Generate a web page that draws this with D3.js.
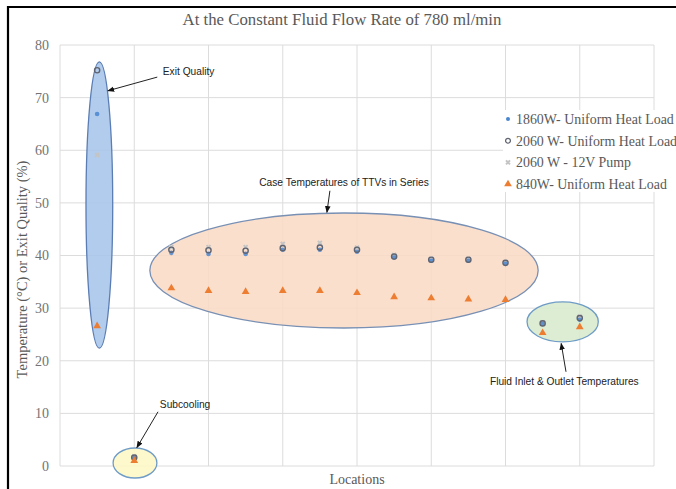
<!DOCTYPE html>
<html>
<head>
<meta charset="utf-8">
<script src="https://cdn.jsdelivr.net/npm/d3@7.9.0/dist/d3.min.js"></script>
<style>
  body { margin: 0; background: #fff; }
  svg { display: block; }
</style>
</head>
<body>
<svg id="chart" width="676" height="489"></svg>
<script>
// ---- data ----
const locations = [1, 2, 3, 4, 5, 6, 7, 8, 9, 10, 11, 12, 13, 14];
const s1860 = [66.9, 1.5, 40.5, 40.3, 40.3, 41.1, 41.1, 40.7, 39.6, 39.0, 39.0, 38.4, 27.0, 27.8];
const s2060 = [75.2, 1.6, 41.1, 41.0, 40.9, 41.4, 41.5, 41.1, 39.8, 39.2, 39.2, 38.6, 27.1, 28.1];
const s2060pump = [59.1, 1.8, 41.6, 41.6, 41.6, 42.2, 42.4, 41.5, 40.1, 39.4, 39.4, 38.8, 27.3, 28.4];
const s840 = [26.6, 1.0, 33.8, 33.3, 33.1, 33.3, 33.3, 32.9, 32.1, 31.9, 31.7, 31.6, 25.3, 26.4];
const seriesNames = ['1860W- Uniform Heat Load', '2060 W- Uniform Heat Load', '2060 W - 12V Pump', '840W- Uniform Heat Load'];
const yTicks = [0, 10, 20, 30, 40, 50, 60, 70, 80];
const xGrid = [0, 2, 4, 6, 8, 10, 12, 14, 16];

// annotation shapes, in data units
const bubbles = [
  { cx: 1.06, cy: 49.6, rx: 0.36, ry: 27.2, fill: '#a7c5ea', stroke: '#5b7db3' },
  { cx: 7.65, cy: 37.15, rx: 5.23, ry: 10.93, fill: '#fbdbc6', stroke: '#7890b4' },
  { cx: 13.54, cy: 27.4, rx: 0.96, ry: 3.8, fill: '#d8eacd', stroke: '#6f9cc6' },
  { cx: 2.02, cy: 0.57, rx: 0.59, ry: 2.85, fill: '#fdf8c6', stroke: '#6f9cc6' }
];
const notes = [
  { text: 'Exit Quality', x: 2.77, y: 74.3, anchor: 'start', from: [2.62, 73.9], to: [1.29, 71.3] },
  { text: 'Case Temperatures of TTVs in Series', x: 7.65, y: 53.3, anchor: 'middle', from: [7.27, 52.3], to: [7.19, 48.2] },
  { text: 'Subcooling', x: 2.69, y: 11.0, anchor: 'start', from: [2.64, 10.3], to: [2.07, 3.5] },
  { text: 'Fluid Inlet & Outlet Temperatures', x: 11.58, y: 15.4, anchor: 'start', from: [13.63, 17.9], to: [13.5, 23.3] }
];

const svg = d3.select('#chart');
const x = d3.scaleLinear().domain([0, 16]).range([60, 654]);
const y = d3.scaleLinear().domain([0, 80]).range([466, 45]);
const serif = '"Liberation Serif", "Times New Roman", serif';
const sans = '"Liberation Sans", Arial, sans-serif';

// outer frame (black lines on left and top)
svg.append('path')
  .attr('d', 'M8,489 L8,7 L676,7')
  .attr('fill', 'none').attr('stroke', '#000').attr('stroke-width', 2.2);

// title
svg.append('text')
  .attr('x', 342).attr('y', 25)
  .attr('text-anchor', 'middle')
  .style('font-family', serif).style('font-size', '16.8px')
  .attr('fill', '#595959')
  .text('At the Constant Fluid Flow Rate of 780 ml/min');

// grid
svg.append('g').selectAll('line.h')
  .data(yTicks).join('line')
  .attr('x1', x(0)).attr('x2', x(16))
  .attr('y1', d => y(d)).attr('y2', d => y(d))
  .attr('stroke', '#dcdcdc').attr('stroke-width', 1);
svg.append('g').selectAll('line.v')
  .data(xGrid).join('line')
  .attr('x1', d => x(d)).attr('x2', d => x(d))
  .attr('y1', y(0)).attr('y2', y(80))
  .attr('stroke', '#dcdcdc').attr('stroke-width', 1);

// y tick labels
const yAxis = d3.axisLeft(y).tickValues(yTicks).tickSize(0).tickPadding(11);
const yg = svg.append('g').attr('transform', `translate(${x(0)},0)`).call(yAxis);
yg.select('.domain').remove();
yg.selectAll('text')
  .style('font-family', serif).style('font-size', '14px')
  .attr('fill', '#737373');

// axis titles
svg.append('text')
  .attr('transform', `translate(27,${(y(0) + y(80)) / 2 + 14}) rotate(-90)`)
  .attr('text-anchor', 'middle')
  .style('font-family', serif).style('font-size', '14.5px')
  .attr('fill', '#595959')
  .text('Temperature (°C) or Exit Quality (%)');
svg.append('text')
  .attr('x', 357).attr('y', 484)
  .attr('text-anchor', 'middle')
  .style('font-family', serif).style('font-size', '14px')
  .attr('fill', '#595959')
  .text('Locations');

// bubbles
svg.append('g').selectAll('ellipse')
  .data(bubbles).join('ellipse')
  .attr('cx', d => x(d.cx)).attr('cy', d => y(d.cy))
  .attr('rx', d => x(d.cx + d.rx) - x(d.cx))
  .attr('ry', d => y(d.cy - d.ry) - y(d.cy))
  .attr('fill', d => d.fill).attr('fill-opacity', 0.88)
  .attr('stroke', d => d.stroke).attr('stroke-width', 1.3);

// markers
const tri = d3.symbol().type(d3.symbolTriangle).size(26);
const cross = d3.symbol().type(d3.symbolCross).size(18);
function drawSeries(vals, kind) {
  const g = svg.append('g');
  const pts = locations.map((l, i) => ({ l, v: vals[i] }));
  if (kind === 'blue') {
    g.selectAll('circle').data(pts).join('circle')
      .attr('cx', d => x(d.l)).attr('cy', d => y(d.v)).attr('r', 2.3)
      .attr('fill', '#4a86d0').attr('fill-opacity', 0.85);
  } else if (kind === 'ring') {
    g.selectAll('circle').data(pts).join('circle')
      .attr('cx', d => x(d.l)).attr('cy', d => y(d.v)).attr('r', 2.6)
      .attr('fill', 'none').attr('stroke', '#5f6470').attr('stroke-width', 1.4);
  } else if (kind === 'x') {
    g.selectAll('path').data(pts).join('path')
      .attr('d', cross)
      .attr('transform', d => `translate(${x(d.l)},${y(d.v)}) rotate(45)`)
      .attr('fill', '#c4c4c4');
  } else {
    g.selectAll('path').data(pts).join('path')
      .attr('d', tri)
      .attr('transform', d => `translate(${x(d.l)},${y(d.v)})`)
      .attr('fill', '#ed7d31');
  }
}
drawSeries(s2060pump, 'x');
drawSeries(s1860, 'blue');
drawSeries(s2060, 'ring');
drawSeries(s840, 'tri');

// arrows and notes
svg.append('defs').append('marker')
  .attr('id', 'ah').attr('viewBox', '0 0 10 10')
  .attr('refX', 9).attr('refY', 5)
  .attr('markerWidth', 7).attr('markerHeight', 7)
  .attr('orient', 'auto')
  .append('path').attr('d', 'M0,1 L10,5 L0,9 z').attr('fill', '#111');

svg.append('g').selectAll('line')
  .data(notes).join('line')
  .attr('x1', d => x(d.from[0])).attr('y1', d => y(d.from[1]))
  .attr('x2', d => x(d.to[0])).attr('y2', d => y(d.to[1]))
  .attr('stroke', '#222').attr('stroke-width', 1)
  .attr('marker-end', 'url(#ah)');
svg.append('g').selectAll('text')
  .data(notes).join('text')
  .attr('x', d => x(d.x)).attr('y', d => y(d.y))
  .attr('text-anchor', d => d.anchor)
  .style('font-family', sans).style('font-size', '10.2px')
  .attr('fill', '#222')
  .text(d => d.text);

// legend
const lg = svg.append('g');
lg.append('rect').attr('x', 503).attr('y', 110).attr('width', 173).attr('height', 82).attr('fill', '#fff');
const kinds = ['blue', 'ring', 'x', 'tri'];
const rows = lg.selectAll('g').data(seriesNames).join('g')
  .attr('transform', (d, i) => `translate(508,${119 + i * 21.7})`);
rows.each(function (d, i) {
  const r = d3.select(this);
  if (kinds[i] === 'blue') r.append('circle').attr('r', 2).attr('fill', '#4a86d0');
  else if (kinds[i] === 'ring') r.append('circle').attr('r', 2.4).attr('fill', 'none').attr('stroke', '#5f6470').attr('stroke-width', 1.3);
  else if (kinds[i] === 'x') r.append('path').attr('d', cross).attr('transform', 'rotate(45)').attr('fill', '#c4c4c4');
  else r.append('path').attr('d', tri).attr('fill', '#ed7d31');
});
rows.append('text')
  .attr('x', 8).attr('y', 5)
  .style('font-family', serif).style('font-size', '13.9px')
  .attr('fill', '#595959')
  .text(d => d);
</script>
</body>
</html>
